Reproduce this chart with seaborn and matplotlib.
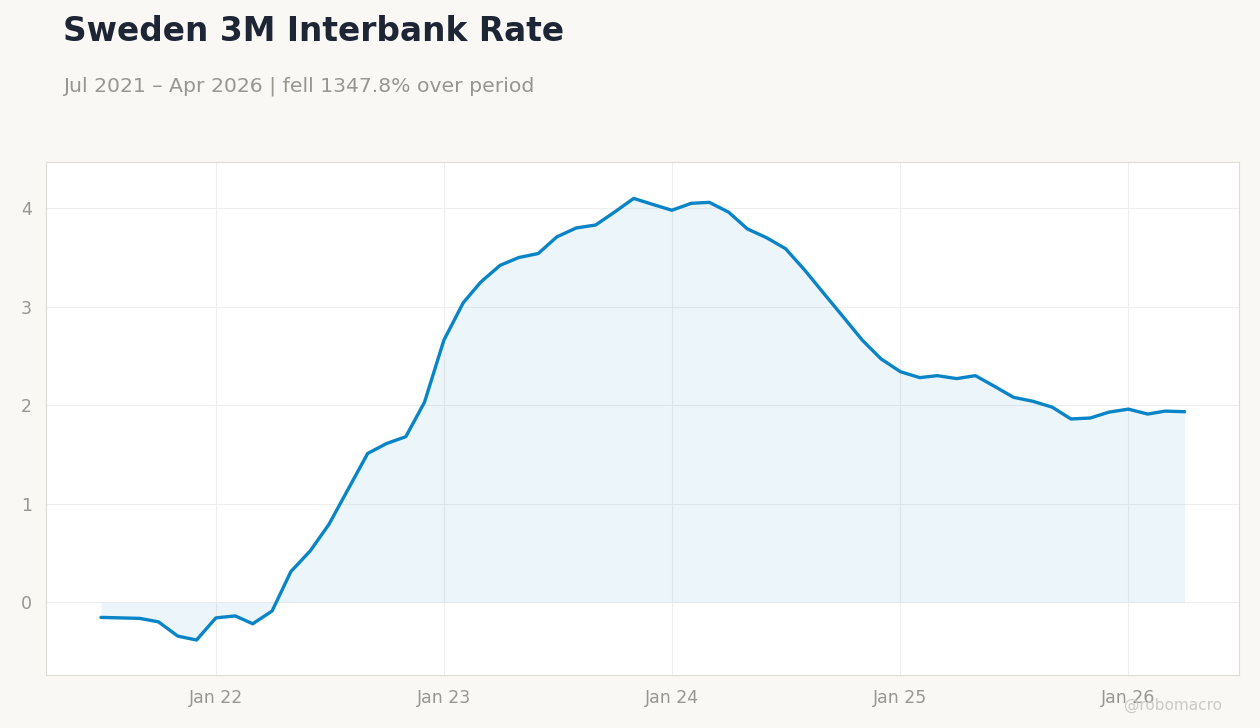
import pandas as pd
import seaborn as sns
import matplotlib.pyplot as plt
import matplotlib.dates as mdates

# Monthly Sweden 3M interbank rate, Jul 2021 - Apr 2026
months = pd.date_range('2021-07-01', '2026-04-01', freq='MS')
rates = [
    -0.155, -0.16, -0.165, -0.20, -0.345, -0.385,        # Jul-Dec 2021
    -0.16, -0.14, -0.22, -0.09, 0.31, 0.52,              # Jan-Jun 2022
    0.79, 1.15, 1.51, 1.61, 1.68, 2.03,                  # Jul-Dec 2022
    2.66, 3.04, 3.25, 3.42, 3.50, 3.54,                  # Jan-Jun 2023
    3.71, 3.80, 3.83, 3.96, 4.10, 4.04,                  # Jul-Dec 2023
    3.98, 4.05, 4.06, 3.96, 3.79, 3.70,                  # Jan-Jun 2024
    3.59, 3.37, 3.13, 2.90, 2.66, 2.47,                  # Jul-Dec 2024
    2.34, 2.28, 2.30, 2.27, 2.30, 2.19,                  # Jan-Jun 2025
    2.08, 2.04, 1.98, 1.86, 1.87, 1.93,                  # Jul-Dec 2025
    1.96, 1.91, 1.94, 1.934,                             # Jan-Apr 2026
]

title = 'Sweden 3M Interbank Rate'
subtitle = 'Jul 2021 \u2013 Apr 2026 | fell 1347.8% over period'

df = pd.DataFrame({'date': months, 'rate': rates})

sns.set_style('white')
plt.rcParams['font.family'] = ['DejaVu Sans']

bg = '#f9f8f5'
line_color = '#0984c6'
grey = '#999690'

fig = plt.figure(figsize=(12.6, 7.28), dpi=100, facecolor=bg)
ax = fig.add_axes([0.0365, 0.0728, 0.9468, 0.7047])
ax.set_facecolor('white')

ax.fill_between(df['date'], df['rate'], 0, color=line_color, alpha=0.08, linewidth=0)
sns.lineplot(data=df, x='date', y='rate', ax=ax, color=line_color, linewidth=2.4)

ax.set_ylim(-0.74, 4.47)
ax.set_yticks([0, 1, 2, 3, 4])
ax.xaxis.set_major_locator(mdates.YearLocator(month=1))
ax.xaxis.set_major_formatter(mdates.DateFormatter('%b %y'))
ax.set_xlim(pd.Timestamp('2021-04-04'), pd.Timestamp('2026-06-27'))

ax.grid(True, color='#eeeeee', linewidth=0.8)
ax.set_axisbelow(True)
ax.set_xlabel('')
ax.set_ylabel('')
ax.tick_params(axis='both', length=0, labelsize=12.5, labelcolor=grey, pad=10)
for spine in ax.spines.values():
    spine.set_color('#dedbd5')
    spine.set_linewidth(0.8)

fig.text(0.05, 1 - 15 / 728, title, fontsize=23.7, fontweight='bold',
         color='#1e2535', va='top', ha='left')
fig.text(0.05, 1 - 77 / 728, subtitle, fontsize=14.7, color=grey,
         va='top', ha='left')
fig.text(0.97, 1 - 705 / 728, '@robomacro', fontsize=11, color='#cccac5',
         va='center', ha='right')

fig.savefig('out.png', dpi=100, facecolor=bg)
plt.close(fig)
